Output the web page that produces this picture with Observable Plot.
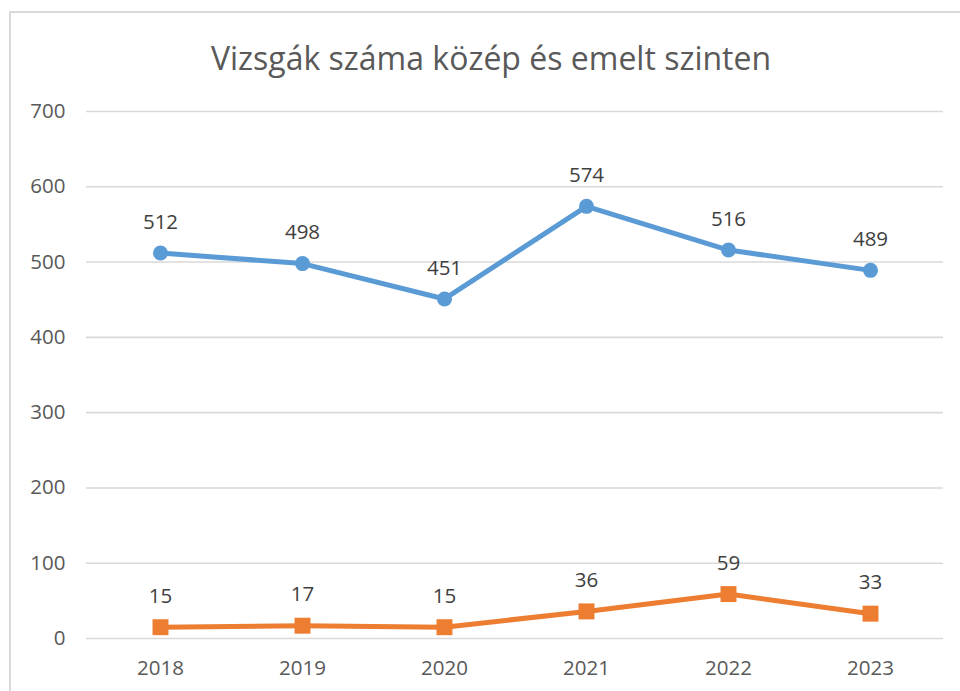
<!DOCTYPE html>
<html>
<head>
<meta charset="utf-8">
<script src="https://cdn.jsdelivr.net/npm/d3@7"></script>
<script src="https://cdn.jsdelivr.net/npm/@observablehq/plot@0.6"></script>
<style>
  html, body { margin: 0; padding: 0; background: #fff; }
  #wrap { position: relative; width: 960px; height: 691px; overflow: hidden; font-family: "Open Sans", "Liberation Sans", sans-serif; }
  #frame { position: absolute; left: 9px; top: 11px; width: 1000px; height: 800px; border-left: 2px solid #d9d9d9; border-top: 2px solid #d9d9d9; }
  #title { position: absolute; left: 0; top: 36px; width: 982px; text-align: center; font-size: 32px; line-height: 44px; color: #595959; }
  #chart { position: absolute; left: 0; top: 90px; }
</style>
</head>
<body>
<div id="wrap">
  <div id="frame"></div>
  <div id="title">Vizsgák száma közép és emelt szinten</div>
  <div id="chart"></div>
</div>
<script>
const years = ["2018", "2019", "2020", "2021", "2022", "2023"];
const kozep = [512, 498, 451, 574, 516, 489];
const emelt = [15, 17, 15, 36, 59, 33];
const yTicks = [0, 100, 200, 300, 400, 500, 600, 700];

const blue = years.map((y, i) => ({year: y, value: kozep[i]}));
const orange = years.map((y, i) => ({year: y, value: emelt[i]}));

const plot = Plot.plot({
  width: 960,
  height: 601,
  marginLeft: 86,
  marginRight: 17,
  marginTop: 21,
  marginBottom: 53,
  style: {fontFamily: "'Open Sans', 'Liberation Sans', sans-serif", background: "transparent"},
  x: {type: "point", domain: years, padding: 0.5},
  y: {domain: [0, 700]},
  marks: [
    Plot.ruleY(yTicks, {stroke: "#d9d9d9", strokeWidth: 1.6}),
    Plot.axisY({ticks: yTicks, tickSize: 0, tickPadding: 21, fontSize: 20.5, color: "#595959", label: null}),
    Plot.axisX({tickSize: 0, tickPadding: 22, fontSize: 20.5, color: "#595959", label: null}),
    Plot.line(blue, {x: "year", y: "value", stroke: "#5b9bd5", strokeWidth: 5}),
    Plot.dot(blue, {x: "year", y: "value", fill: "#5b9bd5", r: 7.5, symbol: "circle"}),
    Plot.text(blue, {x: "year", y: "value", text: d => String(d.value), dy: -31, fontSize: 20.5, fill: "#404040"}),
    Plot.line(orange, {x: "year", y: "value", stroke: "#ed7d31", strokeWidth: 5}),
    Plot.dot(orange, {x: "year", y: "value", fill: "#ed7d31", r: 9, symbol: "square"}),
    Plot.text(orange, {x: "year", y: "value", text: d => String(d.value), dy: -31, fontSize: 20.5, fill: "#404040"})
  ]
});
document.getElementById("chart").appendChild(plot);
</script>
</body>
</html>
